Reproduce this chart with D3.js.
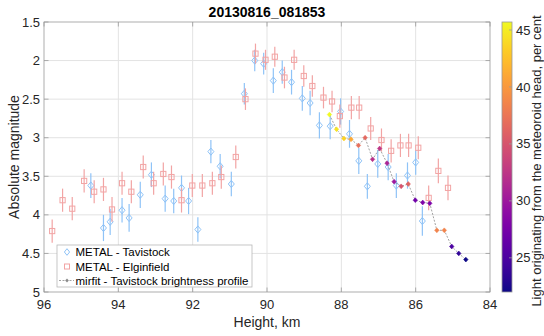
<!DOCTYPE html>
<html>
<head>
<meta charset="utf-8">
<script src="https://cdn.jsdelivr.net/npm/d3@7"></script>
<style>
  html, body { margin: 0; padding: 0; background: #fff; }
  svg { display: block; font-family: "Liberation Sans", Arial, Helvetica, sans-serif; }
</style>
</head>
<body>
<svg id="chart" width="544" height="336"></svg>
<script>
// METAL radar-optical magnitudes, Tavistock station (height km, abs. magnitude, 1-sigma)
const tavHeight = [94.74, 94.40, 94.22, 93.90, 93.71, 93.41, 93.11, 92.74, 92.51, 92.30,
                   92.11, 91.86, 91.51, 91.26, 90.96, 90.61, 90.33, 90.09, 89.83, 89.59,
                   89.34, 89.05, 88.84, 88.59, 88.30, 88.02, 87.78, 87.53, 87.30, 87.02,
                   86.74, 86.52, 86.22, 86.00, 85.82];
const tavMag    = [3.62, 4.17, 4.09, 3.94, 4.04, 3.74, 3.48, 3.79, 3.82, 3.65,
                   3.82, 4.19, 3.18, 3.37, 3.60, 2.43, 2.00, 2.04, 2.26, 2.15,
                   2.28, 2.49, 2.55, 2.84, 2.85, 2.66, 2.95, 3.30, 3.63, 3.34,
                   3.38, 3.62, 3.49, 3.32, 4.08];
const tavErr    = [0.16, 0.17, 0.17, 0.16, 0.18, 0.17, 0.16, 0.17, 0.16, 0.16,
                   0.17, 0.16, 0.15, 0.16, 0.16, 0.14, 0.14, 0.14, 0.16, 0.15,
                   0.16, 0.16, 0.16, 0.17, 0.17, 0.17, 0.18, 0.17, 0.16, 0.18,
                   0.17, 0.16, 0.17, 0.16, 0.19];

// METAL magnitudes, Elginfield station
const elgHeight = [95.78, 95.50, 95.24, 94.92, 94.65, 94.40, 94.17, 93.90, 93.65, 93.33,
                   93.05, 92.79, 92.57, 92.30, 92.01, 91.74, 91.47, 91.23, 90.84, 90.58,
                   90.31, 90.04, 89.79, 89.53, 89.27, 89.01, 88.78, 88.48, 88.25, 88.04,
                   87.73, 87.52, 87.21, 86.92, 86.66, 86.41, 86.19, 85.93, 85.65, 85.39,
                   85.13];
const elgMag    = [4.21, 3.81, 3.92, 3.56, 3.70, 3.67, 3.93, 3.59, 3.70, 3.38,
                   3.59, 3.47, 3.51, 3.81, 3.62, 3.62, 3.59, 3.51, 3.25, 2.50,
                   1.91, 1.99, 1.95, 2.22, 1.99, 2.20, 2.33, 2.48, 2.53, 2.72,
                   2.61, 2.61, 2.88, 3.03, 3.17, 3.10, 3.10, 3.13, 3.78, 3.43,
                   3.65];
const elgErr    = [0.15, 0.15, 0.15, 0.15, 0.15, 0.15, 0.16, 0.15, 0.15, 0.15,
                   0.15, 0.15, 0.15, 0.16, 0.15, 0.15, 0.15, 0.15, 0.15, 0.14,
                   0.13, 0.13, 0.13, 0.14, 0.13, 0.14, 0.14, 0.14, 0.14, 0.15,
                   0.15, 0.15, 0.15, 0.15, 0.15, 0.15, 0.15, 0.15, 0.16, 0.16,
                   0.16];

// mirfit brightness profile (Tavistock) with head-light fraction in per cent
const mirHeight = [88.32, 88.13, 87.93, 87.74, 87.54, 87.36, 87.16, 86.97, 86.77, 86.58,
                   86.39, 86.20, 86.01, 85.81, 85.62, 85.43, 85.23, 85.03, 84.84, 84.65];
const mirMag    = [2.70, 2.89, 3.01, 3.02, 3.10, 3.00, 3.28, 3.14, 3.33, 3.57,
                   3.63, 3.60, 3.81, 3.84, 3.85, 4.20, 4.20, 4.41, 4.50, 4.58];
const mirHead   = [45.7, 44.5, 43.5, 41.0, 37.0, 36.5, 32.0, 32.5, 31.0, 30.0,
                   35.0, 36.0, 27.0, 28.0, 28.0, 38.5, 38.5, 25.0, 23.5, 22.0];

const xTicks = [96, 94, 92, 90, 88, 86, 84];
const yTicks = [1.5, 2, 2.5, 3, 3.5, 4, 4.5, 5];
const cTicks = [25, 30, 35, 40, 45];

const titleText = "20130816_081853";
const xLabel = "Height, km";
const yLabel = "Absolute magnitude";
const cLabel = "Light originating from the meteoroid head, per cent";
const legendLabels = ["METAL - Tavistock", "METAL - Elginfield", "mirfit - Tavistock brightness profile"];

const tavColor = "#8fc3f7";
const elgColor = "#f2a4a4";
const axisColor = "#262626";
const gridColor = "#e3e3e3";

const svg = d3.select("#chart");
const plot = { left: 44, right: 490, top: 22, bottom: 292 };

const x = d3.scaleLinear().domain([96, 84]).range([plot.left, plot.right]);
const y = d3.scaleLinear().domain([1.5, 5]).range([plot.top, plot.bottom]);
const cDomain = d3.extent(mirHead);
const color = d3.scaleSequential(d3.interpolatePlasma).domain(cDomain);

svg.append("rect").attr("width", 544).attr("height", 336).attr("fill", "#fff");

// grid
const grid = svg.append("g");
grid.selectAll(".gx").data(xTicks.slice(1, -1)).join("line")
  .attr("x1", d => x(d)).attr("x2", d => x(d))
  .attr("y1", plot.top).attr("y2", plot.bottom)
  .attr("stroke", gridColor).attr("stroke-width", 1);
grid.selectAll(".gy").data(yTicks.slice(1, -1)).join("line")
  .attr("x1", plot.left).attr("x2", plot.right)
  .attr("y1", d => y(d)).attr("y2", d => y(d))
  .attr("stroke", gridColor).attr("stroke-width", 1);

const tav = tavHeight.map((h, i) => ({ h, m: tavMag[i], e: tavErr[i] }));
const elg = elgHeight.map((h, i) => ({ h, m: elgMag[i], e: elgErr[i] }));
const mir = mirHeight.map((h, i) => ({ h, m: mirMag[i], c: mirHead[i] }));

const diamond = (cx, cy, w, h) => `M${cx},${cy - h}L${cx + w},${cy}L${cx},${cy + h}L${cx - w},${cy}Z`;

// Tavistock error bars and open diamonds
const gTav = svg.append("g");
gTav.selectAll("line").data(tav).join("line")
  .attr("x1", d => x(d.h)).attr("x2", d => x(d.h))
  .attr("y1", d => y(d.m - d.e)).attr("y2", d => y(d.m + d.e))
  .attr("stroke", tavColor).attr("stroke-width", 1.2);
gTav.selectAll("path").data(tav).join("path")
  .attr("d", d => diamond(x(d.h), y(d.m), 3, 3.6))
  .attr("fill", "none").attr("stroke", tavColor).attr("stroke-width", 1);

// Elginfield error bars and open squares
const gElg = svg.append("g");
gElg.selectAll("line").data(elg).join("line")
  .attr("x1", d => x(d.h)).attr("x2", d => x(d.h))
  .attr("y1", d => y(d.m - d.e)).attr("y2", d => y(d.m + d.e))
  .attr("stroke", elgColor).attr("stroke-width", 1.2);
gElg.selectAll("rect").data(elg).join("rect")
  .attr("x", d => x(d.h) - 2.6).attr("y", d => y(d.m) - 2.6)
  .attr("width", 5.2).attr("height", 5.2)
  .attr("fill", "none").attr("stroke", elgColor).attr("stroke-width", 1);

// mirfit profile, points coloured by head-light fraction
const gMir = svg.append("g");
gMir.append("path").datum(mir)
  .attr("d", d3.line().x(d => x(d.h)).y(d => y(d.m)))
  .attr("fill", "none").attr("stroke", "#8a8a8a").attr("stroke-width", 0.8)
  .attr("stroke-dasharray", "2,1.5");
gMir.selectAll("path.pt").data(mir).join("path").attr("class", "pt")
  .attr("d", d => diamond(x(d.h), y(d.m), 2.2, 2.4))
  .attr("fill", d => color(d.c)).attr("stroke", d => color(d.c)).attr("stroke-width", 0.6);

// axes box and ticks (ticks point inward on all four sides)
const axes = svg.append("g").attr("stroke", "#9a9a9a").attr("stroke-width", 0.8);
axes.append("rect").attr("x", plot.left).attr("y", plot.top)
  .attr("width", plot.right - plot.left).attr("height", plot.bottom - plot.top)
  .attr("fill", "none");
const tl = 4.5;
xTicks.forEach(t => {
  axes.append("line").attr("x1", x(t)).attr("x2", x(t)).attr("y1", plot.bottom).attr("y2", plot.bottom - tl);
  axes.append("line").attr("x1", x(t)).attr("x2", x(t)).attr("y1", plot.top).attr("y2", plot.top + tl);
});
yTicks.forEach(t => {
  axes.append("line").attr("x1", plot.left).attr("x2", plot.left + tl).attr("y1", y(t)).attr("y2", y(t));
  axes.append("line").attr("x1", plot.right).attr("x2", plot.right - tl).attr("y1", y(t)).attr("y2", y(t));
});

// tick labels
svg.append("g").selectAll("text").data(xTicks).join("text")
  .attr("x", d => x(d)).attr("y", 309)
  .attr("text-anchor", "middle").attr("font-size", 13).attr("fill", axisColor)
  .text(d => d);
svg.append("g").selectAll("text").data(yTicks).join("text")
  .attr("x", 40).attr("y", d => y(d) + 4.6)
  .attr("text-anchor", "end").attr("font-size", 13).attr("fill", axisColor)
  .text(d => d);

// titles
svg.append("text").attr("x", 267).attr("y", 17).attr("text-anchor", "middle")
  .attr("font-size", 14).attr("font-weight", "bold").attr("fill", "#000").text(titleText);
svg.append("text").attr("x", 267).attr("y", 327).attr("text-anchor", "middle")
  .attr("font-size", 14).attr("fill", axisColor).text(xLabel);
svg.append("text").attr("transform", `translate(19,${(plot.top + plot.bottom) / 2}) rotate(-90)`)
  .attr("text-anchor", "middle").attr("font-size", 14).attr("fill", axisColor).text(yLabel);

// colorbar
const cb = { left: 502, right: 512, top: 22, bottom: 292 };
const cy = d3.scaleLinear().domain(cDomain).range([cb.bottom, cb.top]);
const defs = svg.append("defs");
const grad = defs.append("linearGradient").attr("id", "cbGrad")
  .attr("x1", 0).attr("y1", 1).attr("x2", 0).attr("y2", 0);
d3.range(0, 1.0001, 0.05).forEach(t => {
  grad.append("stop").attr("offset", t).attr("stop-color", d3.interpolatePlasma(t));
});
svg.append("rect").attr("x", cb.left).attr("y", cb.top)
  .attr("width", cb.right - cb.left).attr("height", cb.bottom - cb.top)
  .attr("fill", "url(#cbGrad)").attr("stroke", "#9a9a9a").attr("stroke-width", 0.8);
svg.append("g").selectAll("line").data(cTicks).join("line")
  .attr("x1", cb.right).attr("x2", cb.right - 3)
  .attr("y1", d => cy(d)).attr("y2", d => cy(d))
  .attr("stroke", "#9a9a9a").attr("stroke-width", 0.8);
svg.append("g").selectAll("text").data(cTicks).join("text")
  .attr("x", 516).attr("y", d => cy(d) + 4.6)
  .attr("font-size", 13).attr("fill", axisColor).text(d => d);
svg.append("text").attr("transform", `translate(541,161) rotate(-90)`)
  .attr("text-anchor", "middle").attr("font-size", 13).attr("fill", axisColor).text(cLabel);

// legend
const lg = svg.append("g").attr("transform", "translate(57,245)");
lg.append("rect").attr("width", 195).attr("height", 42)
  .attr("fill", "#fff").attr("stroke", "#b8b8b8").attr("stroke-width", 0.8);
const rows = [7, 21.5, 35.5];
lg.append("path").attr("d", diamond(10, rows[0], 2.6, 3.3))
  .attr("fill", "none").attr("stroke", tavColor).attr("stroke-width", 1);
lg.append("rect").attr("x", 7.5).attr("y", rows[1] - 2.5).attr("width", 5).attr("height", 5)
  .attr("fill", "none").attr("stroke", elgColor).attr("stroke-width", 1);
lg.append("line").attr("x1", 2).attr("x2", 17).attr("y1", rows[2]).attr("y2", rows[2])
  .attr("stroke", "#8a8a8a").attr("stroke-width", 0.8).attr("stroke-dasharray", "2,1.5");
lg.append("path").attr("d", diamond(10, rows[2], 1.8, 2))
  .attr("fill", "#8a8a8a").attr("stroke", "none");
lg.selectAll("text").data(legendLabels).join("text")
  .attr("x", 18.5).attr("y", (d, i) => rows[i] + 4.2)
  .attr("font-size", 11.5).attr("fill", "#000").text(d => d);
</script>
</body>
</html>
